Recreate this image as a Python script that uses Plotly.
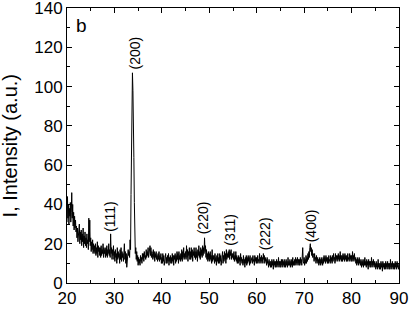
import plotly.graph_objects as go

# XRD pattern sampled every 0.1 degrees from 20 to 90 (2-theta), one row per degree
theta_start = 20.0
theta_step = 0.1
intensity = [
    31, 44, 33, 40, 30, 38, 34, 41, 31, 36,   # 20
    46, 33, 40, 29, 36, 27, 34, 28, 32, 26,   # 21
    29, 23, 28, 21, 27, 24, 30, 20, 26, 22,   # 22
    27, 19, 25, 21, 28, 18, 24, 20, 26, 19,   # 23
    23, 18, 25, 20, 22, 17, 33, 21, 32, 19,   # 24
    23, 16, 21, 17, 22, 15, 20, 16, 19, 15,   # 25
    20, 14, 18, 15, 21, 13, 19, 16, 18, 14,   # 26
    18, 13, 19, 14, 17, 15, 20, 13, 18, 15,   # 27
    17, 13, 18, 14, 19, 13, 17, 15, 20, 14,   # 28
    17, 13, 25, 15, 18, 12, 17, 14, 19, 12,   # 29
    16, 11, 17, 13, 15, 10, 18, 12, 16, 13,   # 30
    15, 10, 17, 12, 18, 11, 16, 13, 15, 11,   # 31
    14, 20, 12, 16, 10, 15, 8, 14, 12, 17,    # 32
    14, 16, 13, 22, 17, 45, 69, 60, 107, 98,  # 33
    87, 64, 41, 20, 15, 18, 12, 16, 11, 14,   # 34
    9, 13, 10, 12, 9, 14, 11, 13, 10, 15,     # 35
    12, 15, 11, 16, 13, 14, 12, 17, 13, 16,   # 36
    14, 18, 13, 17, 15, 19, 14, 18, 13, 16,   # 37
    15, 12, 17, 13, 16, 11, 15, 13, 16, 12,   # 38
    14, 11, 15, 12, 16, 11, 14, 12, 15, 10,   # 39
    13, 10, 15, 11, 14, 9, 13, 12, 15, 10,    # 40
    13, 10, 14, 11, 15, 9, 13, 11, 14, 10,    # 41
    13, 10, 15, 11, 14, 9, 14, 12, 15, 10,    # 42
    14, 11, 16, 12, 15, 10, 16, 12, 14, 11,   # 43
    15, 12, 17, 11, 16, 13, 18, 12, 15, 13,   # 44
    16, 12, 19, 13, 17, 11, 16, 14, 18, 12,   # 45
    16, 12, 18, 13, 17, 11, 16, 14, 18, 13,   # 46
    16, 12, 18, 13, 16, 11, 17, 14, 19, 13,   # 47
    16, 12, 18, 14, 17, 13, 19, 14, 18, 15,   # 48
    23, 16, 19, 13, 17, 12, 15, 11, 16, 12,   # 49
    15, 11, 16, 12, 14, 10, 17, 11, 14, 12,   # 50
    14, 10, 15, 11, 13, 9, 14, 11, 15, 10,    # 51
    13, 10, 15, 11, 14, 9, 13, 11, 16, 10,    # 52
    14, 11, 16, 12, 15, 10, 17, 12, 15, 13,   # 53
    16, 13, 17, 12, 16, 14, 17, 12, 15, 13,   # 54
    15, 12, 16, 11, 14, 12, 16, 11, 14, 10,   # 55
    13, 10, 14, 11, 13, 9, 15, 11, 13, 10,    # 56
    12, 9, 14, 10, 12, 8, 13, 10, 14, 9,      # 57
    13, 10, 14, 11, 13, 9, 14, 10, 12, 11,    # 58
    13, 10, 14, 11, 12, 9, 14, 11, 13, 10,    # 59
    13, 10, 14, 11, 12, 10, 15, 11, 13, 10,   # 60
    14, 11, 13, 10, 15, 12, 14, 10, 13, 11,   # 61
    12, 9, 13, 10, 11, 8, 12, 9, 11, 8,       # 62
    11, 8, 12, 9, 11, 7, 12, 9, 11, 8,        # 63
    11, 8, 12, 9, 11, 8, 13, 9, 11, 8,        # 64
    11, 8, 12, 9, 12, 8, 11, 9, 12, 8,        # 65
    11, 8, 12, 9, 11, 8, 13, 9, 11, 9,        # 66
    12, 8, 11, 9, 12, 8, 13, 9, 11, 9,        # 67
    12, 9, 13, 10, 12, 9, 13, 10, 12, 9,      # 68
    12, 9, 13, 10, 12, 9, 13, 18, 11, 10,     # 69
    13, 9, 12, 10, 14, 10, 13, 11, 15, 12,    # 70
    16, 13, 18, 20, 16, 18, 14, 17, 13, 15,   # 71
    14, 11, 15, 12, 13, 10, 14, 11, 13, 10,   # 72
    12, 9, 13, 10, 12, 9, 13, 10, 12, 9,      # 73
    13, 10, 14, 11, 13, 10, 14, 11, 13, 10,   # 74
    13, 10, 14, 11, 12, 10, 14, 11, 13, 10,   # 75
    14, 11, 15, 12, 13, 10, 15, 11, 14, 12,   # 76
    14, 11, 15, 12, 14, 11, 16, 12, 14, 11,   # 77
    14, 11, 15, 12, 14, 11, 15, 12, 14, 11,   # 78
    14, 11, 15, 12, 13, 11, 15, 12, 14, 11,   # 79
    14, 11, 16, 12, 14, 11, 15, 12, 13, 10,   # 80
    12, 9, 13, 10, 12, 9, 13, 10, 12, 9,      # 81
    11, 8, 12, 9, 11, 8, 12, 9, 13, 9,        # 82
    11, 8, 12, 9, 11, 7, 12, 9, 11, 8,        # 83
    11, 8, 13, 9, 11, 8, 12, 9, 11, 8,        # 84
    10, 7, 11, 8, 10, 7, 12, 8, 10, 7,        # 85
    10, 7, 11, 8, 10, 6, 11, 8, 10, 7,        # 86
    10, 7, 11, 8, 10, 7, 11, 8, 10, 7,        # 87
    10, 7, 12, 8, 10, 7, 11, 8, 10, 7,        # 88
    10, 7, 11, 8, 10, 7, 11, 8, 10, 7,        # 89
    9,                                        # 90
]

peak_labels = ["(111)", "(200)", "(220)", "(311)", "(222)", "(400)"]
peak_x = [29.2, 34.4, 48.7, 54.3, 61.8, 71.5]
peak_y = [34, 117, 33, 27, 25, 29]

panel_label = "b"
y_title = "I, Intensity (a.u.)"

FONT = "Liberation Sans, Arial"

fig = go.Figure()
fig.add_trace(go.Scatter(
    x0=theta_start, dx=theta_step, y=intensity,
    mode="lines", line=dict(color="black", width=1),
    showlegend=False,
))

for lab, px, py in zip(peak_labels, peak_x, peak_y):
    fig.add_annotation(x=px, y=py, text=lab, textangle=-90, showarrow=False,
                       font=dict(family=FONT, size=14, color="black"))

fig.add_annotation(x=23, y=131, text=panel_label, showarrow=False,
                   font=dict(family=FONT, size=19, color="black"))

# y-axis title as paper-anchored annotation (keeps plot area fixed)
fig.add_annotation(xref="paper", yref="paper", x=-0.172, y=0.5, text=y_title,
                   textangle=-90, showarrow=False, xanchor="center", yanchor="middle",
                   font=dict(family=FONT, size=20, color="black"))

axis_common = dict(
    showline=True, linecolor="black", linewidth=1, mirror="ticks",
    ticks="inside", ticklen=5, tickwidth=1, tickcolor="black",
    showgrid=False, zeroline=False, automargin=False,
    ticklabeloverflow="allow",
    tickfont=dict(family=FONT, size=17, color="black"),
)

fig.update_xaxes(range=[20, 90], dtick=10, tick0=0,
                 minor=dict(ticks="inside", dtick=5, ticklen=3, tickcolor="black"),
                 **axis_common)
fig.update_yaxes(range=[0, 140], dtick=20, tick0=0,
                 minor=dict(ticks="inside", dtick=10, ticklen=3, tickcolor="black"),
                 **axis_common)

fig.update_layout(
    width=410, height=310,
    margin=dict(l=67, r=11, t=8, b=27),
    plot_bgcolor="white", paper_bgcolor="white",
)

fig.write_html("out.html", config={"displayModeBar": False},
               post_script="document.body.style.margin='0';document.body.style.overflow='hidden';")
